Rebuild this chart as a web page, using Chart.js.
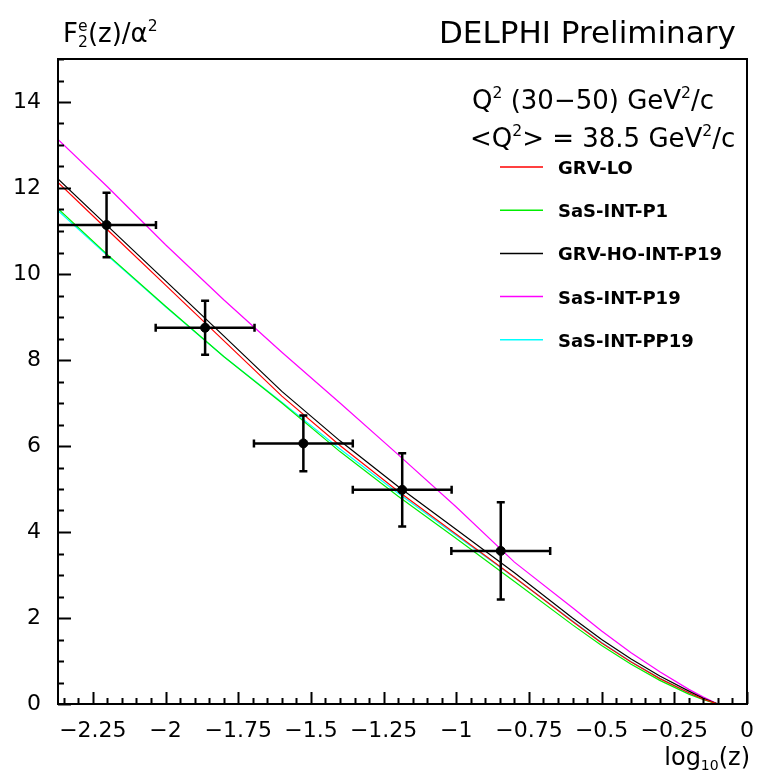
<!DOCTYPE html>
<html lang="en">
<head>
<meta charset="UTF-8">
<script src="https://cdn.jsdelivr.net/npm/chart.js"></script>
<title>F2e DELPHI</title>
<style>
  body { margin: 0; background: #fff; }
  canvas { display: block; }
</style>
</head>
<body>
<canvas id="myChart" width="768" height="778"></canvas>
<script>
// curves: log10(z) grid and model predictions
const curveX  = [-2.37, -2.2, -2.0, -1.8, -1.6, -1.4, -1.2, -1.0, -0.8, -0.6, -0.5, -0.4, -0.3, -0.2, -0.15, -0.1, 0];
const grvLo   = [12.13, 11.03, 9.74, 8.45, 7.16, 6.01, 4.95, 3.95, 2.95, 1.92, 1.42, 0.98, 0.59, 0.26, 0.11, 0, 0];
const sasP1   = [11.52, 10.45, 9.25, 8.08, 7.00, 5.87, 4.83, 3.85, 2.85, 1.84, 1.36, 0.93, 0.55, 0.23, 0.10, 0, 0];
const grvHo   = [12.21, 11.12, 9.84, 8.56, 7.27, 6.12, 5.06, 4.06, 3.05, 2.00, 1.50, 1.05, 0.65, 0.30, 0.13, 0, 0];
const sasP19  = [13.13, 12.03, 10.68, 9.40, 8.18, 7.00, 5.80, 4.58, 3.30, 2.24, 1.70, 1.20, 0.75, 0.34, 0.16, 0, 0];
const sasPP19 = [11.47, 10.43, 9.24, 8.08, 7.02, 5.93, 4.90, 3.92, 2.94, 1.93, 1.43, 0.99, 0.60, 0.26, 0.11, 0, 0];

// measured points
const pointX    = [-2.203, -1.864, -1.526, -1.186, -0.847];
const pointY    = [11.14, 8.75, 6.06, 4.98, 3.56];
const pointXErr = [0.17, 0.17, 0.17, 0.17, 0.17];
const pointYErr = [0.75, 0.63, 0.65, 0.85, 1.13];

const xTicks = [-2.25, -2, -1.75, -1.5, -1.25, -1, -0.75, -0.5, -0.25, 0];
const yTicks = [0, 2, 4, 6, 8, 10, 12, 14];

const modelNames  = ['GRV-LO', 'SaS-INT-P1', 'GRV-HO-INT-P19', 'SaS-INT-P19', 'SaS-INT-PP19'];
const modelColors = ['#ff0000', '#00ee00', '#000000', '#ff00ff', '#00ffff'];
const modelData   = [grvLo, sasP1, grvHo, sasP19, sasPP19];

const FONT = '"DejaVu Sans", sans-serif';

function xy(xs, ys) {
    return xs.map(function (x, i) { return { x: x, y: ys[i] }; });
}

function minusFmt(v) {
    return v < 0 ? '\u2212' + String(Math.abs(v)) : String(v);
}

// draws text with superscript pieces
function drawRich(ctx, parts, x, y, size) {
    let cx = x;
    parts.forEach(function (p) {
        let s = size, dy = 0;
        if (p.sup) { s = size * 0.6; dy = -size * 0.42; }
        if (p.sub) { s = size * 0.6; dy = size * 0.2; }
        ctx.font = s + 'px ' + FONT;
        ctx.fillText(p.t, cx, y + dy);
        cx += ctx.measureText(p.t).width;
    });
    return cx;
}

const decoPlugin = {
    id: 'deco',
    afterDatasetsDraw(chart) {
        const ctx = chart.ctx;
        const a = chart.chartArea;
        const xs = chart.scales.x, ys = chart.scales.y;

        // error bars
        ctx.save();
        ctx.beginPath();
        ctx.rect(a.left, a.top, a.right - a.left, a.bottom - a.top);
        ctx.clip();
        ctx.strokeStyle = '#000';
        ctx.lineWidth = 2.5;
        for (let i = 0; i < pointX.length; i++) {
            const px = xs.getPixelForValue(pointX[i]);
            const py = ys.getPixelForValue(pointY[i]);
            const xl = xs.getPixelForValue(pointX[i] - pointXErr[i]);
            const xr = xs.getPixelForValue(pointX[i] + pointXErr[i]);
            const yt = ys.getPixelForValue(pointY[i] + pointYErr[i]);
            const yb = ys.getPixelForValue(pointY[i] - pointYErr[i]);
            ctx.beginPath();
            ctx.moveTo(xl, py); ctx.lineTo(xr, py);
            ctx.moveTo(px, yt); ctx.lineTo(px, yb);
            ctx.moveTo(xl, py - 4); ctx.lineTo(xl, py + 4);
            ctx.moveTo(xr, py - 4); ctx.lineTo(xr, py + 4);
            ctx.moveTo(px - 4, yt); ctx.lineTo(px + 4, yt);
            ctx.moveTo(px - 4, yb); ctx.lineTo(px + 4, yb);
            ctx.stroke();
        }
        ctx.restore();

        // frame and inward ticks
        ctx.save();
        ctx.strokeStyle = '#000';
        ctx.lineWidth = 2;
        ctx.strokeRect(a.left, a.top, a.right - a.left, a.bottom - a.top);
        ctx.beginPath();
        for (let v = 0; v <= 15.001; v += 0.5) {
            const py = Math.round(ys.getPixelForValue(v)) + 0.5;
            const len = (Math.abs(v % 2) < 0.001) ? 13 : 6;
            ctx.moveTo(a.left, py); ctx.lineTo(a.left + len, py);
        }
        for (let k = 0; k <= 47; k++) {
            const v = -k * 0.05;
            if (v < xs.min) break;
            const px = Math.round(xs.getPixelForValue(v)) + 0.5;
            const len = (k % 5 === 0) ? 12 : 6;
            ctx.moveTo(px, a.bottom); ctx.lineTo(px, a.bottom - len);
        }
        ctx.stroke();
        ctx.restore();

        // texts
        ctx.save();
        ctx.fillStyle = '#000';
        ctx.textBaseline = 'alphabetic';
        ctx.textAlign = 'left';
        const ts = 26;
        drawRich(ctx, [{ t: 'F' }, { t: 'e', sup: true }], 63, 42, ts);
        ctx.font = ts + 'px ' + FONT;
        let fx = 63 + ctx.measureText('F').width;
        ctx.font = (ts * 0.6) + 'px ' + FONT;
        ctx.fillText('2', fx, 47);
        fx += ctx.measureText('2').width;
        drawRich(ctx, [{ t: '(z)/\u03b1' }, { t: '2', sup: true }], fx, 42, ts);

        ctx.font = '31px ' + FONT;
        ctx.fillText('DELPHI Preliminary', 439, 43);

        drawRich(ctx, [{ t: 'Q' }, { t: '2', sup: true }, { t: ' (30\u221250) GeV' }, { t: '2', sup: true }, { t: '/c' }], 472, 109, 26);
        drawRich(ctx, [{ t: '<Q' }, { t: '2', sup: true }, { t: '> = 38.5 GeV' }, { t: '2', sup: true }, { t: '/c' }], 470, 147, 26);

        // legend
        for (let i = 0; i < modelNames.length; i++) {
            const ly = 167 + i * 43.2;
            ctx.strokeStyle = modelColors[i];
            ctx.lineWidth = 1.5;
            ctx.beginPath();
            ctx.moveTo(500, ly); ctx.lineTo(543, ly);
            ctx.stroke();
            ctx.font = 'bold 18px ' + FONT;
            ctx.fillText(modelNames[i], 558, ly + 7);
        }

        // x axis title, right aligned to the frame
        ctx.font = '24px ' + FONT;
        const w1 = ctx.measureText('log').width;
        const w3 = ctx.measureText('(z)').width;
        ctx.font = '14px ' + FONT;
        const w2 = ctx.measureText('10').width;
        let tx = 750 - (w1 + w2 + w3);
        ctx.font = '24px ' + FONT;
        ctx.fillText('log', tx, 765);
        tx += w1;
        ctx.font = '14px ' + FONT;
        ctx.fillText('10', tx, 770);
        tx += w2;
        ctx.font = '24px ' + FONT;
        ctx.fillText('(z)', tx, 765);
        ctx.restore();
    }
};

const datasets = [];
for (let i = 0; i < modelNames.length; i++) {
    datasets.push({
        label: modelNames[i],
        data: xy(curveX, modelData[i]),
        showLine: true,
        borderColor: modelColors[i],
        borderWidth: 1.2,
        pointRadius: 0,
        tension: 0,
        order: 2
    });
}
datasets.push({
    label: 'DELPHI',
    data: xy(pointX, pointY),
    showLine: false,
    pointRadius: 4.5,
    pointBackgroundColor: '#000',
    pointBorderColor: '#000',
    order: 1
});

const config = {
    type: 'scatter',
    data: { datasets: datasets },
    options: {
        responsive: false,
        animation: false,
        devicePixelRatio: 1,
        layout: { padding: { top: 59, right: 21, left: 0, bottom: 0 } },
        plugins: { legend: { display: false }, tooltip: { enabled: false } },
        scales: {
            x: {
                type: 'linear',
                min: -2.37,
                max: 0,
                afterBuildTicks: function (s) { s.ticks = xTicks.map(function (v) { return { value: v }; }); },
                afterFit: function (s) { s.height = 74; },
                grid: { display: false, drawTicks: false },
                border: { display: false },
                ticks: {
                    color: '#000',
                    padding: 14,
                    maxRotation: 0,
                    autoSkip: false,
                    font: { family: 'DejaVu Sans', size: 22 },
                    callback: function (v) { return minusFmt(v); }
                }
            },
            y: {
                type: 'linear',
                min: 0,
                max: 15,
                afterBuildTicks: function (s) { s.ticks = yTicks.map(function (v) { return { value: v }; }); },
                afterFit: function (s) { s.width = 58; },
                grid: { display: false, drawTicks: false },
                border: { display: false },
                ticks: {
                    color: '#000',
                    padding: 17,
                    autoSkip: false,
                    font: { family: 'DejaVu Sans', size: 22 },
                    callback: function (v) { return String(v); }
                }
            }
        }
    },
    plugins: [decoPlugin]
};

let ctx = document.getElementById('myChart').getContext('2d');
let myChart = new Chart(ctx, config);
</script>
</body>
</html>
